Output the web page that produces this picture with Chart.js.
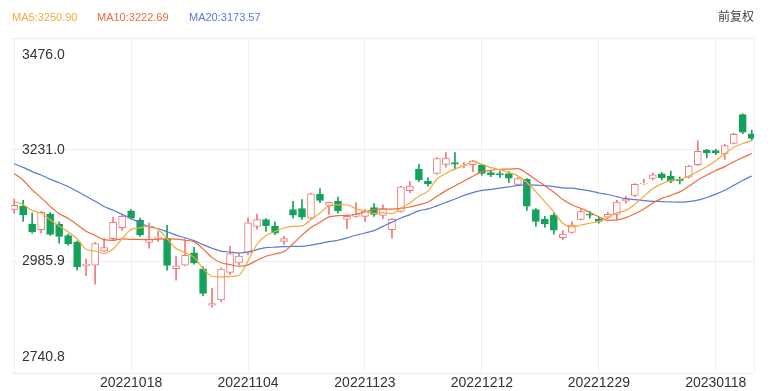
<!DOCTYPE html>
<html><head><meta charset="utf-8">
<script src="https://cdn.jsdelivr.net/npm/chart.js@4.4.0/dist/chart.umd.min.js"></script>
<style>
html,body{margin:0;padding:0;background:#fff;}
#wrap{position:relative;width:772px;height:391px;overflow:hidden;}
canvas{position:absolute;left:0;top:0;}
.lg{position:absolute;top:9px;font:11px "Liberation Sans",Arial,sans-serif;white-space:nowrap;line-height:16px;}
#fq{position:absolute;top:8px;left:718px;font:12px "Noto Sans CJK SC",sans-serif;color:#444;line-height:16px;}
</style></head>
<body><div id="wrap"><canvas id="c" width="772" height="391"></canvas>
<span class="lg" id="l5" style="left:12px;color:#f5a83c"></span>
<span class="lg" id="l10" style="left:97px;color:#ee6b3b"></span>
<span class="lg" id="l20" style="left:189px;color:#5b79d6"></span>
<span id="fq">前复权</span>
</div>
<script>
const dates = ["20220922","20220923","20220926","20220927","20220928","20220929","20220930","20221010","20221011","20221012","20221013","20221014","20221017","20221018","20221019","20221020","20221021","20221024","20221025","20221026","20221027","20221028","20221031","20221101","20221102","20221103","20221104","20221107","20221108","20221109","20221110","20221111","20221114","20221115","20221116","20221117","20221118","20221121","20221122","20221123","20221124","20221125","20221128","20221129","20221130","20221201","20221202","20221205","20221206","20221207","20221208","20221209","20221212","20221213","20221214","20221215","20221216","20221219","20221220","20221221","20221222","20221223","20221226","20221227","20221228","20221229","20221230","20230103","20230104","20230105","20230106","20230109","20230110","20230111","20230112","20230113","20230116","20230117","20230118","20230119","20230120","20230130","20230131"];
const opens = [3100,3107,3068,3056,3090,3068,3043,3028,2977,2978,3009,3036,3060,3097,3076,3028,3037,3036,2970,2978,3005,2970,2890,2902,2962,2983,3004,3063,3078,3063,3030,3100,3102,3081,3134,3109,3118,3079,3085,3085,3104,3087,3056,3096,3141,3188,3162,3179,3199,3203,3196,3198,3198,3181,3179,3179,3155,3166,3100,3079,3087,3038,3050,3078,3090,3079,3083,3089,3118,3131,3156,3168,3178,3173,3166,3171,3198,3230,3229,3222,3245,3308,3266];
const closes = [3108.91,3088.37,3051.23,3093.86,3045.07,3041.20,3024.39,2974.15,2979.79,3025.51,3016.36,3071.99,3084.94,3080.96,3044.38,3035.05,3038.93,2977.56,2976.28,2999.50,2982.90,2915.93,2893.48,2969.20,3003.37,2997.81,3070.80,3077.82,3064.49,3048.17,3036.13,3087.29,3083.40,3134.08,3119.98,3115.43,3097.24,3085.04,3088.94,3096.91,3089.31,3101.69,3078.55,3149.75,3151.34,3165.47,3156.14,3211.81,3212.53,3199.62,3197.35,3206.95,3179.04,3176.33,3176.53,3168.65,3167.86,3107.12,3073.77,3068.41,3054.43,3045.87,3065.56,3095.57,3087.40,3073.70,3089.26,3116.51,3123.52,3155.22,3157.64,3176.08,3169.51,3161.84,3163.45,3195.31,3227.59,3224.24,3224.41,3240.28,3264.81,3269.32,3255.67];
const highs = [3123,3120,3092,3096,3093,3073,3046,3031,2992,3028,3036,3083,3089,3100,3081,3070,3052,3065,2998,3034,3017,2975,2927,2972,3019,3004,3081,3090,3080,3073,3041,3118,3122,3136,3146,3116,3127,3086,3115,3100,3113,3110,3080,3151,3161,3199,3170,3214,3225,3225,3203,3208,3199,3185,3184,3183,3170,3168,3102,3085,3092,3054,3073,3099,3096,3083,3094,3120,3129,3157,3166,3180,3181,3184,3171,3197,3251,3232,3232,3243,3267,3310,3274];
const lows = [3092,3074,3048,3048,3043,3026,3022,2967,2955,2936,3008,3034,3054,3078,3041,3015,3030,2967,2945,2977,2980,2911,2886,2898,2957,2978,3001,3057,3052,3045,3023,3081,3078,3078,3115,3089,3092,3058,3083,3074,3085,3080,3037,3094,3137,3161,3151,3177,3193,3188,3191,3183,3175,3172,3170,3159,3153,3098,3063,3061,3046,3034,3048,3077,3081,3070,3080,3078,3114,3128,3155,3165,3165,3159,3156,3169,3196,3213,3220,3210,3244,3266,3252];
const ma5 = [3118.10,3110.49,3097.62,3091.91,3077.49,3063.95,3051.15,3035.73,3012.92,3009.01,3004.04,3013.56,3035.72,3055.95,3059.73,3063.46,3056.85,3035.38,3014.44,3005.46,2995.03,2970.43,2953.62,2952.20,2952.98,2955.96,2986.93,3023.80,3042.86,3051.82,3059.48,3062.78,3063.90,3077.81,3092.18,3108.04,3110.03,3110.35,3101.33,3096.71,3091.49,3092.38,3091.08,3103.24,3114.13,3129.36,3140.25,3166.90,3179.46,3189.11,3195.49,3205.65,3199.10,3191.86,3187.24,3181.50,3173.68,3159.30,3138.79,3117.16,3094.32,3069.92,3061.61,3065.97,3069.77,3073.62,3082.30,3092.49,3098.08,3111.64,3128.43,3145.79,3156.39,3164.06,3165.70,3173.24,3183.54,3194.49,3207.00,3222.37,3236.27,3244.61,3250.90];
const ma10 = [3178.94,3164.22,3143.14,3126.14,3106.90,3091.02,3080.82,3066.68,3052.42,3043.25,3033.99,3032.36,3035.73,3034.44,3034.37,3033.75,3035.21,3035.55,3035.20,3032.60,3029.25,3013.64,2994.50,2983.32,2979.22,2975.50,2978.68,2988.71,2997.53,3002.40,3007.72,3024.86,3043.85,3060.34,3072.00,3083.76,3086.40,3087.13,3089.57,3094.44,3099.76,3101.20,3100.72,3102.28,3105.42,3110.42,3116.31,3128.99,3141.35,3151.62,3162.43,3172.95,3183.00,3185.66,3188.18,3188.50,3189.67,3179.20,3165.32,3152.20,3137.91,3121.80,3110.45,3102.38,3093.46,3083.97,3076.11,3077.05,3082.02,3090.70,3101.03,3114.05,3124.44,3131.07,3138.67,3150.83,3164.67,3175.44,3185.53,3194.04,3204.75,3214.08,3222.69];
const ma20 = [3200.15,3192.26,3183.01,3175.67,3166.56,3158.51,3150.48,3139.87,3128.86,3117.96,3106.47,3098.29,3089.43,3080.29,3070.63,3062.39,3058.01,3051.11,3043.81,3037.92,3031.62,3023.00,3015.11,3008.88,3006.79,3004.62,3006.94,3012.13,3016.36,3017.50,3018.48,3019.25,3019.17,3021.83,3025.61,3029.63,3032.54,3037.92,3043.55,3048.42,3053.74,3063.03,3072.28,3081.31,3088.71,3097.09,3101.36,3108.06,3115.46,3123.03,3131.09,3137.08,3141.86,3143.97,3146.80,3149.46,3152.99,3154.09,3153.34,3151.91,3150.17,3147.38,3146.73,3144.02,3140.82,3136.23,3132.89,3128.12,3123.67,3121.45,3119.47,3117.92,3117.45,3116.72,3116.07,3117.40,3120.39,3126.24,3133.78,3142.37,3152.89,3164.06,3173.57];
const yTicks = [2740.8, 2985.9, 3231.0, 3476.0];
const xGridIdx = [0, 13, 26, 39, 52, 65, 78];
const xLabelIdx = [13, 26, 39, 52, 65, 78];

const UP = '#f07878', DOWN = '#12a25b';
const C5 = '#f5a83c', C10 = '#ee6b3b', C20 = '#5b79d6';
const X_MIN = -0.35, X_MAX = 82.25;

document.getElementById('l5').textContent = 'MA5:' + ma5[ma5.length-1].toFixed(2);
document.getElementById('l10').textContent = 'MA10:' + ma10[ma10.length-1].toFixed(2);
document.getElementById('l20').textContent = 'MA20:' + ma20[ma20.length-1].toFixed(2);

const isUp = dates.map((d,i) => closes[i] >= opens[i]);
const line = (arr, color) => ({
  type: 'line', data: arr.map((v,i) => ({x:i, y:v})), borderColor: color, borderWidth: 1.2,
  pointRadius: 0, cubicInterpolationMode: 'monotone', fill: false, order: 1
});

const yLabelPlugin = {
  id: 'ylab',
  afterDraw(chart) {
    const s = chart.scales.y, c = chart.ctx;
    c.save();
    c.font = '14px "Liberation Sans", Arial, sans-serif';
    c.fillStyle = '#333';
    c.textAlign = 'left';
    c.textBaseline = 'middle';
    yTicks.forEach((v,k) => {
      let y = s.getPixelForValue(v);
      if (k === yTicks.length - 1) y += 17; else if (k === 0) y -= 16;
      c.fillText(v.toFixed(1), 22, y);
    });
    c.restore();
  }
};

new Chart(document.getElementById('c'), {
  type: 'bar',
  data: { datasets: [
    line(ma5, C5), line(ma10, C10), line(ma20, C20),
    { type: 'bar', data: opens.map((o,i) => ({x:i, y:[o, closes[i]]})),
      backgroundColor: isUp.map(u => u ? '#ffffff' : DOWN),
      borderColor: isUp.map(u => u ? UP : DOWN),
      borderWidth: 1, borderSkipped: false, barThickness: 7, grouped: false, order: 2 },
    { type: 'bar', data: lows.map((l,i) => ({x:i, y:[l, highs[i]]})),
      backgroundColor: isUp.map(u => u ? UP : DOWN),
      barThickness: 1, grouped: false, order: 3 }
  ]},
  options: {
    responsive: false, animation: false, devicePixelRatio: 1,
    layout: { padding: { left: 11, right: 18, top: 38, bottom: -2 } },
    plugins: { legend: { display: false }, tooltip: { enabled: false } },
    scales: {
      x: { type: 'linear', min: X_MIN, max: X_MAX, offset: false,
        afterBuildTicks: s => { s.ticks = xGridIdx.map(v => ({value: v})).concat([{value: X_MAX}]); },
        ticks: { autoSkip: false, maxRotation: 0, padding: 2, color: '#333',
          font: { size: 14, lineHeight: 1.12, family: '"Liberation Sans", Arial, sans-serif' },
          callback: v => xLabelIdx.includes(v) ? dates[v] : '' },
        grid: { color: '#f0f0f0', drawTicks: false, offset: false }, border: { display: false } },
      y: { min: yTicks[0], max: yTicks[yTicks.length-1],
        afterBuildTicks: s => { s.ticks = yTicks.map(v => ({value: v})); },
        ticks: { display: false },
        grid: { color: '#eeeeee', drawTicks: false }, border: { display: false } }
    }
  },
  plugins: [yLabelPlugin]
});
</script>
</body></html>
